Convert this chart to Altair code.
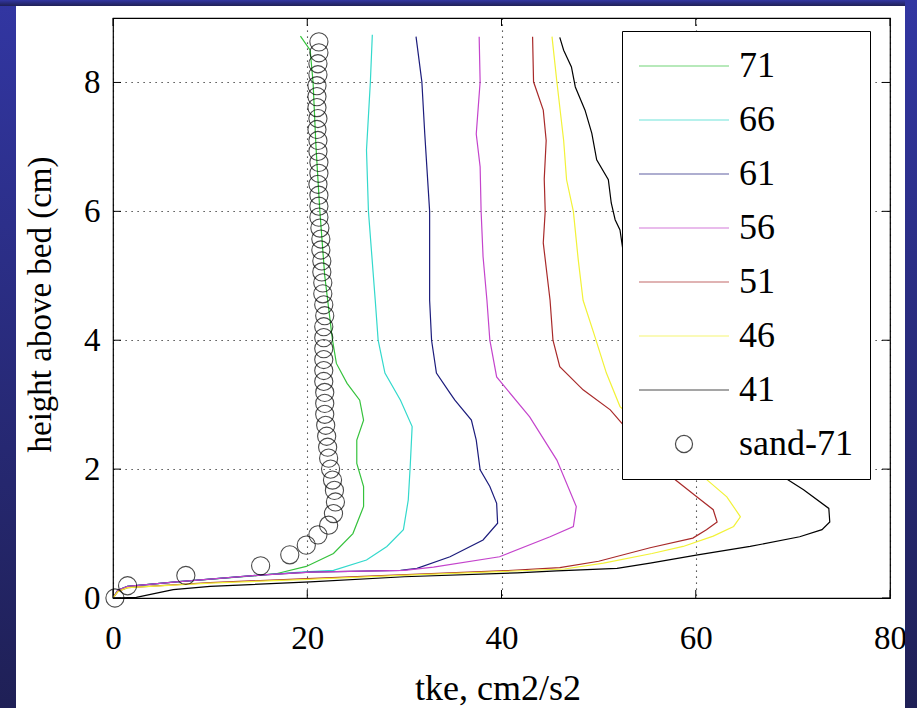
import altair as alt
import pandas as pd

FONT = "Liberation Serif"

# ---------------- data ----------------
series_names = ["71", "66", "61", "56", "51", "46", "41"]
series_colors = ["#35c23c", "#33d9cc", "#1c1c7c", "#c444cc", "#a82a2a", "#f2f238", "#000000"]

h71 = [0.0, 0.12, 0.18, 0.25, 0.35, 0.38, 0.49, 0.69, 1.00, 1.42, 1.73, 2.09, 2.45, 2.76, 3.07, 3.33, 3.64, 4.00, 4.50, 5.00, 6.00, 7.00, 8.00, 8.50, 8.72]
v71 = [0.0, 0.5, 1.5, 6.5, 15.0, 16.9, 19.9, 22.7, 24.7, 25.8, 25.8, 25.1, 25.1, 25.8, 25.4, 24.1, 23.0, 22.6, 22.2, 21.8, 21.3, 20.9, 20.6, 20.3, 19.3]

h66 = [0.0, 0.12, 0.18, 0.25, 0.36, 0.40, 0.43, 0.59, 0.80, 1.06, 1.52, 2.04, 2.66, 3.07, 3.49, 4.00, 4.62, 6.00, 6.95, 8.01, 8.74]
v66 = [0.0, 0.5, 1.5, 6.5, 15.5, 19.3, 22.7, 26.1, 28.2, 29.9, 30.4, 30.6, 30.8, 29.6, 28.0, 27.3, 27.0, 26.3, 26.1, 26.5, 26.7]

h61 = [0.0, 0.12, 0.18, 0.25, 0.36, 0.40, 0.43, 0.46, 0.64, 0.90, 1.16, 1.47, 1.73, 1.99, 2.45, 2.76, 3.07, 3.18, 3.49, 4.00, 4.62, 6.00, 7.20, 8.01, 8.71]
v61 = [0.0, 0.5, 1.5, 6.5, 15.5, 20.3, 29.6, 31.3, 34.7, 38.1, 39.6, 39.5, 38.8, 37.8, 37.4, 36.9, 35.2, 34.7, 33.3, 32.8, 32.6, 32.6, 32.1, 31.8, 31.2]

h56 = [0.0, 0.12, 0.18, 0.25, 0.36, 0.40, 0.43, 0.48, 0.64, 0.95, 1.11, 1.42, 2.14, 2.81, 3.43, 4.00, 4.62, 5.30, 6.00, 6.69, 7.20, 8.01, 8.71]
v56 = [0.0, 0.5, 1.5, 6.5, 15.5, 20.3, 30.0, 33.0, 39.8, 45.0, 47.4, 47.7, 45.7, 42.9, 39.5, 38.8, 38.5, 38.1, 37.9, 37.8, 37.4, 37.8, 37.7]

h51 = [0.0, 0.10, 0.16, 0.24, 0.30, 0.36, 0.42, 0.47, 0.57, 0.78, 0.93, 1.06, 1.18, 1.37, 1.57, 1.88, 2.20, 2.50, 2.71, 2.92, 3.23, 3.59, 4.00, 4.62, 5.51, 6.00, 6.50, 7.10, 7.57, 8.01, 8.71]
v51 = [0.0, 0.5, 1.5, 10.0, 20.0, 29.6, 39.8, 46.0, 50.0, 55.3, 59.7, 61.1, 62.2, 61.8, 60.1, 57.5, 55.5, 53.6, 52.4, 51.2, 48.4, 46.0, 45.3, 45.0, 44.3, 44.5, 44.4, 44.6, 44.3, 43.3, 43.2]

h46 = [0.0, 0.10, 0.16, 0.23, 0.29, 0.35, 0.41, 0.45, 0.54, 0.69, 0.80, 0.96, 1.11, 1.26, 1.57, 1.88, 2.20, 2.55, 2.80, 2.97, 3.49, 4.11, 4.62, 5.25, 6.00, 6.49, 7.10, 8.01, 8.71]
v46 = [0.0, 0.5, 1.5, 10.0, 20.0, 29.6, 39.8, 46.5, 50.5, 55.5, 58.7, 61.8, 63.9, 64.6, 63.2, 60.8, 58.0, 55.5, 53.5, 52.2, 50.8, 49.5, 48.4, 47.9, 47.4, 46.7, 46.4, 45.7, 45.2]

h41 = [0.0, 0.01, 0.13, 0.18, 0.25, 0.33, 0.39, 0.42, 0.46, 0.54, 0.67, 0.80, 0.95, 1.06, 1.18, 1.39, 1.68, 1.88, 2.20, 2.70, 3.30, 4.00, 4.80, 5.40, 5.71, 5.87, 6.13, 6.49, 6.80, 7.21, 7.57, 7.93, 8.24, 8.50, 8.70]
v41 = [0.0, 2.4, 6.2, 10.0, 20.3, 30.0, 41.6, 45.7, 51.9, 55.3, 60.2, 65.6, 70.7, 73.0, 73.8, 73.7, 71.1, 69.0, 66.0, 62.0, 58.0, 55.0, 53.5, 52.5, 52.2, 51.7, 51.3, 51.0, 49.8, 49.3, 48.6, 47.6, 47.2, 46.4, 46.0]

sand_name = "sand-71"
sand_h = [0.00, 0.19, 0.35, 0.50, 0.67, 0.82, 0.98, 1.13, 1.31, 1.49, 1.67, 1.83,
          2.00, 2.17, 2.34, 2.51, 2.68, 2.85, 3.02, 3.19, 3.36, 3.53,
          3.70, 3.87, 4.04, 4.21, 4.38, 4.55, 4.72, 4.89, 5.06, 5.23,
          5.40, 5.57, 5.74, 5.91, 6.08, 6.25, 6.42, 6.59, 6.76, 6.93,
          7.10, 7.27, 7.44, 7.61, 7.78, 7.95, 8.12, 8.29, 8.46, 8.63]
sand_v = [0.2, 1.5, 7.5, 15.2, 18.2, 19.9, 21.1, 22.2, 22.7, 22.9, 22.8, 22.6,
          22.4, 22.2, 22.1, 22.0, 21.9, 21.8, 21.8, 21.8, 21.7, 21.7,
          21.7, 21.7, 21.7, 21.7, 21.8, 21.7, 21.6, 21.6, 21.5, 21.5,
          21.4, 21.4, 21.3, 21.2, 21.2, 21.2, 21.1, 21.2, 21.2, 21.1,
          21.1, 21.0, 21.1, 21.0, 21.0, 21.0, 21.1, 21.1, 21.2, 21.2]

x_ticks = [0, 20, 40, 60, 80]
y_ticks = [0, 2, 4, 6, 8]
x_domain = [0, 80]
y_domain = [0, 9]
x_title = "tke, cm2/s2"
y_title = "height above bed (cm)"

# ---------------- tables ----------------
profiles = {"71": (v71, h71), "66": (v66, h66), "61": (v61, h61), "56": (v56, h56),
            "51": (v51, h51), "46": (v46, h46), "41": (v41, h41)}
rows = []
for name in series_names:
    vs, hs = profiles[name]
    assert len(vs) == len(hs)
    for i, (v, h) in enumerate(zip(vs, hs)):
        rows.append({"series": name, "tke": v, "height": h, "idx": i})
lines_df = pd.DataFrame(rows)
assert len(sand_h) == len(sand_v)
sand_df = pd.DataFrame({"series": sand_name, "tke": sand_v, "height": sand_h})

# ---------------- layout ----------------
W, H = 777, 580
PAD = {"left": 113, "top": 18, "right": 27, "bottom": 110}
TICK_PX = 8
tx = TICK_PX * (x_domain[1] - x_domain[0]) / W
ty = TICK_PX * (y_domain[1] - y_domain[0]) / H

tick_rows = []
for t in x_ticks:
    tick_rows.append({"x": t, "x2": t, "y": y_domain[0], "y2": y_domain[0] + ty})
    tick_rows.append({"x": t, "x2": t, "y": y_domain[1] - ty, "y2": y_domain[1]})
for t in y_ticks:
    tick_rows.append({"x": x_domain[0], "x2": x_domain[0] + tx, "y": t, "y2": t})
    tick_rows.append({"x": x_domain[1] - tx, "x2": x_domain[1], "y": t, "y2": t})
ticks_df = pd.DataFrame(tick_rows)

xs = alt.Scale(domain=x_domain, nice=False, zero=False)
ys = alt.Scale(domain=y_domain, nice=False, zero=False)
color_scale = alt.Scale(domain=series_names + [sand_name], range=series_colors + ["#000000"])

# legend symbols: custom paths (unit = sqrt(size)/2 = 15 px)
STROKE_PATH = "M-3,0H3"
R = 0.57
CIRCLE_PATH = f"M-{R},0A{R},{R},0,1,1,{R},0A{R},{R},0,1,1,-{R},0Z"
legend = alt.Legend(
    orient="none", legendX=509, legendY=13, title=None,
    symbolType={"expr": f"datum.value === '{sand_name}' ? '{CIRCLE_PATH}' : '{STROKE_PATH}'"},
    symbolSize=900, symbolStrokeWidth=1.2, symbolFillColor="transparent",
    symbolOffset=27,
    labelFont=FONT, labelFontSize=36, labelColor="black", labelOffset=37,
    rowPadding=18, padding=17, strokeColor="black", fillColor="white",
    symbolLimit=0,
)

GRID = dict(grid=True, gridDash=[1.2, 4.8], gridColor="black", gridOpacity=0.85, gridWidth=1.1)
x_axis = alt.Axis(values=x_ticks, **GRID,
                  ticks=False, domain=False, labelFont=FONT, labelFontSize=33, labelColor="black",
                  labelPadding=24, labelFlush=False, format="d",
                  title=x_title, titleFont=FONT, titleFontSize=36, titleFontWeight="normal",
                  titleColor="black", titleX=W / 2 - 4, titleY=101, titleBaseline="alphabetic",
                  titleAlign="center")
y_axis = alt.Axis(values=y_ticks, **GRID,
                  ticks=False, domain=False, labelFont=FONT, labelFontSize=33, labelColor="black",
                  labelPadding=13, format="d",
                  title=y_title, titleFont=FONT, titleFontSize=33, titleFontWeight="normal",
                  titleColor="black", titleX=-73, titleY=H / 2 - 4, titleAngle=270,
                  titleBaseline="middle", titleAlign="center")

blue = alt.Gradient(gradient="linear", x1=0, y1=0, x2=0, y2=1,
                    stops=[alt.GradientStop(offset=0, color="#3236a2"),
                           alt.GradientStop(offset=1, color="#1f2056")])
one = pd.DataFrame({"k": [0]})
strips = [
    alt.Chart(one).mark_rect(fill=blue, clip=False).encode(
        x=alt.value(-PAD["left"]), x2=alt.value(16 - PAD["left"]),
        y=alt.value(-PAD["top"]), y2=alt.value(H + PAD["bottom"])),
    alt.Chart(one).mark_rect(fill=blue, clip=False).encode(
        x=alt.value(-PAD["left"]), x2=alt.value(W + PAD["right"]),
        y=alt.value(-PAD["top"]), y2=alt.value(6 - PAD["top"])),
    alt.Chart(one).mark_rect(fill=blue, clip=False).encode(
        x=alt.value(905 - PAD["left"]), x2=alt.value(W + PAD["right"]),
        y=alt.value(-PAD["top"]), y2=alt.value(H + PAD["bottom"])),
]

lines = alt.Chart(lines_df).mark_line(strokeWidth=1.2, clip=True).encode(
    x=alt.X("tke:Q", scale=xs, axis=x_axis),
    y=alt.Y("height:Q", scale=ys, axis=y_axis),
    color=alt.Color("series:N", scale=color_scale, legend=legend),
    order="idx:Q",
)

tick_marks = alt.Chart(ticks_df).mark_rule(color="black", strokeWidth=1).encode(
    x=alt.X("x:Q", scale=xs), x2="x2:Q",
    y=alt.Y("y:Q", scale=ys), y2="y2:Q",
)

points = alt.Chart(sand_df).mark_point(shape="circle", filled=False, size=330, strokeWidth=1.1,
                                       clip=False).encode(
    x=alt.X("tke:Q", scale=xs),
    y=alt.Y("height:Q", scale=ys),
    color=alt.Color("series:N", scale=color_scale, legend=legend),
)

chart = alt.layer(*strips, lines, tick_marks, points).properties(
    width=W, height=H,
    autosize=alt.AutoSizeParams(type="none"),
    padding=PAD,
    background="white",
).configure_view(stroke="black", strokeWidth=1.2)

chart.save("out.html", embed_options={"renderer": "svg", "actions": False})
